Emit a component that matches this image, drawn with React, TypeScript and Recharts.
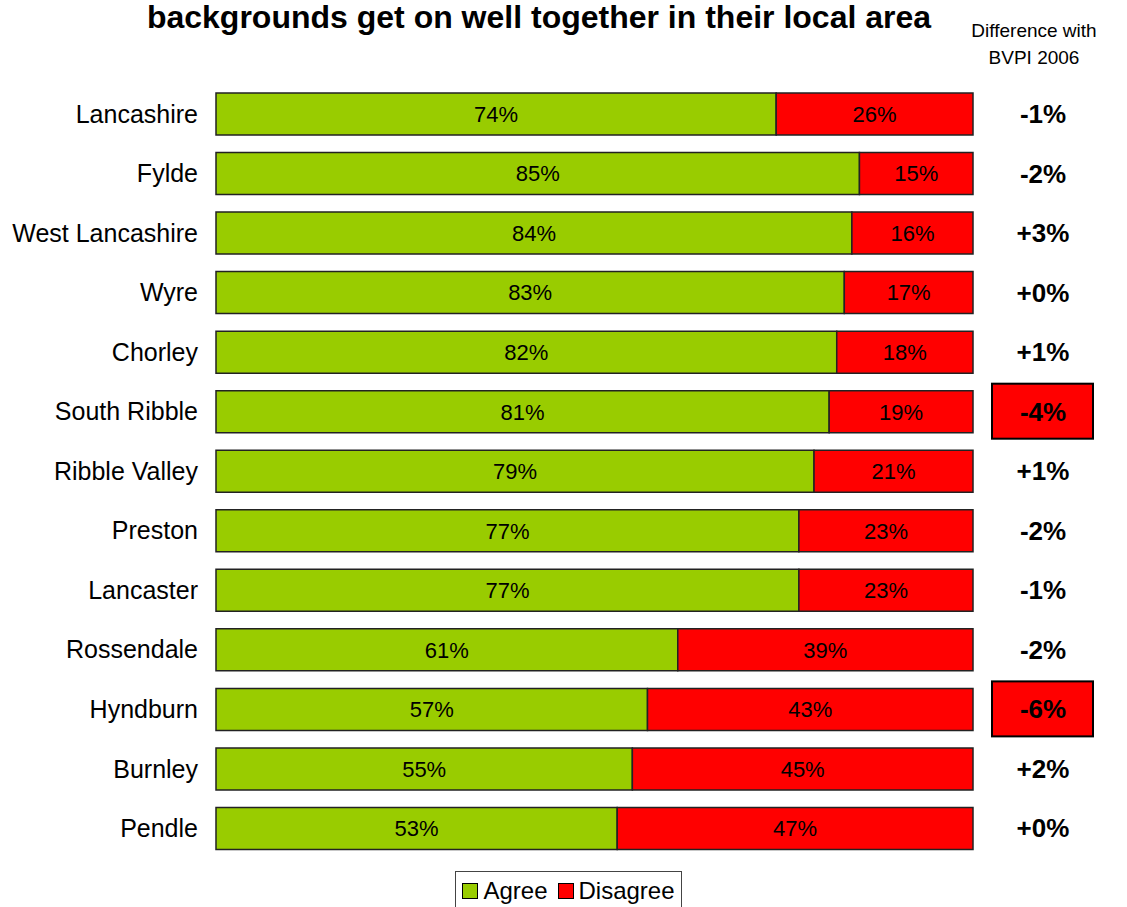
import React from "react";
import { BarChart, Bar, XAxis, YAxis, LabelList, Legend } from "recharts";

const areas = [
  "Lancashire",
  "Fylde",
  "West Lancashire",
  "Wyre",
  "Chorley",
  "South Ribble",
  "Ribble Valley",
  "Preston",
  "Lancaster",
  "Rossendale",
  "Hyndburn",
  "Burnley",
  "Pendle",
];
const agree = [74, 85, 84, 83, 82, 81, 79, 77, 77, 61, 57, 55, 53];
const disagree = [26, 15, 16, 17, 18, 19, 21, 23, 23, 39, 43, 45, 47];
const diffs = ["-1%", "-2%", "+3%", "+0%", "+1%", "-4%", "+1%", "-2%", "-1%", "-2%", "-6%", "+2%", "+0%"];
const flagged = [false, false, false, false, false, true, false, false, false, false, true, false, false];

const data = areas.map((name, i) => ({
  name,
  agree: agree[i],
  disagree: disagree[i],
  diff: diffs[i],
  flag: flagged[i],
}));

const FONT = "'Liberation Sans', Arial, sans-serif";
const GREEN = "#99CC00";
const RED = "#FF0000";

const DiffLabel = (props: any) => {
  const { y, height, index } = props;
  const cy = y + height / 2;
  const row = data[index];
  const cx = 1043;
  return (
    <g>
      {row.flag && (
        <rect x={cx - 51} y={cy - 28} width={101} height={55} fill={RED} stroke="#000" strokeWidth={2} />
      )}
      <text x={cx} y={cy} textAnchor="middle" dominantBaseline="central" fontFamily={FONT} fontSize={26} fontWeight="bold" fill="#000">
        {row.diff}
      </text>
    </g>
  );
};

const LegendBox = () => (
  <div
    style={{
      width: 227,
      height: 40,
      border: "1px solid #444",
      background: "#fff",
      display: "flex",
      alignItems: "center",
      justifyContent: "center",
      fontFamily: FONT,
      fontSize: 24,
      boxSizing: "border-box",
    }}
  >
    <span style={{ width: 14, height: 14, background: GREEN, border: "1px solid #000", display: "inline-block", marginRight: 5 }} />
    <span style={{ marginRight: 10 }}>Agree</span>
    <span style={{ width: 14, height: 14, background: RED, border: "1px solid #000", display: "inline-block", marginRight: 5 }} />
    <span>Disagree</span>
  </div>
);

export default function App() {
  return (
    <div style={{ position: "absolute", left: 0, top: 0, width: 1127, height: 907, background: "#fff", overflow: "hidden" }}>
      <div
        style={{
          position: "absolute",
          left: 0,
          width: 1078,
          top: 1,
          textAlign: "center",
          fontFamily: FONT,
          fontWeight: "bold",
          fontSize: 32,
          lineHeight: "32px",
        }}
      >
        backgrounds get on well together in their local area
      </div>
      <div
        style={{
          position: "absolute",
          left: 946,
          width: 176,
          top: 17,
          textAlign: "center",
          fontFamily: FONT,
          fontSize: 19,
          lineHeight: "27px",
        }}
      >
        Difference with
        <br />
        BVPI 2006
      </div>
      <BarChart
        width={1127}
        height={907}
        data={data}
        layout="vertical"
        margin={{ top: 84, right: 154, bottom: 9, left: 0 }}
        barSize={42}
      >
        <XAxis type="number" domain={[0, 100]} hide />
        <YAxis
          type="category"
          dataKey="name"
          width={216}
          axisLine={false}
          tickLine={false}
          tickMargin={12}
          tick={{ fill: "#000", fontSize: 25, fontFamily: FONT }}
        />
        <Legend
          verticalAlign="bottom"
          content={<LegendBox />}
          wrapperStyle={{ position: "absolute", left: 455, top: 871, width: 227, bottom: "auto" }}
        />
        <Bar dataKey="agree" name="Agree" stackId="a" fill={GREEN} stroke="#222" strokeWidth={1.5} isAnimationActive={false}>
          <LabelList
            dataKey="agree"
            position="center"
            formatter={(v: any) => `${v}%`}
            style={{ fill: "#000", fontSize: 22, fontFamily: FONT }}
          />
        </Bar>
        <Bar dataKey="disagree" name="Disagree" stackId="a" fill={RED} stroke="#222" strokeWidth={1.5} isAnimationActive={false}>
          <LabelList
            dataKey="disagree"
            position="center"
            formatter={(v: any) => `${v}%`}
            style={{ fill: "#000", fontSize: 22, fontFamily: FONT }}
          />
          <LabelList dataKey="diff" content={<DiffLabel />} />
        </Bar>
      </BarChart>
    </div>
  );
}
